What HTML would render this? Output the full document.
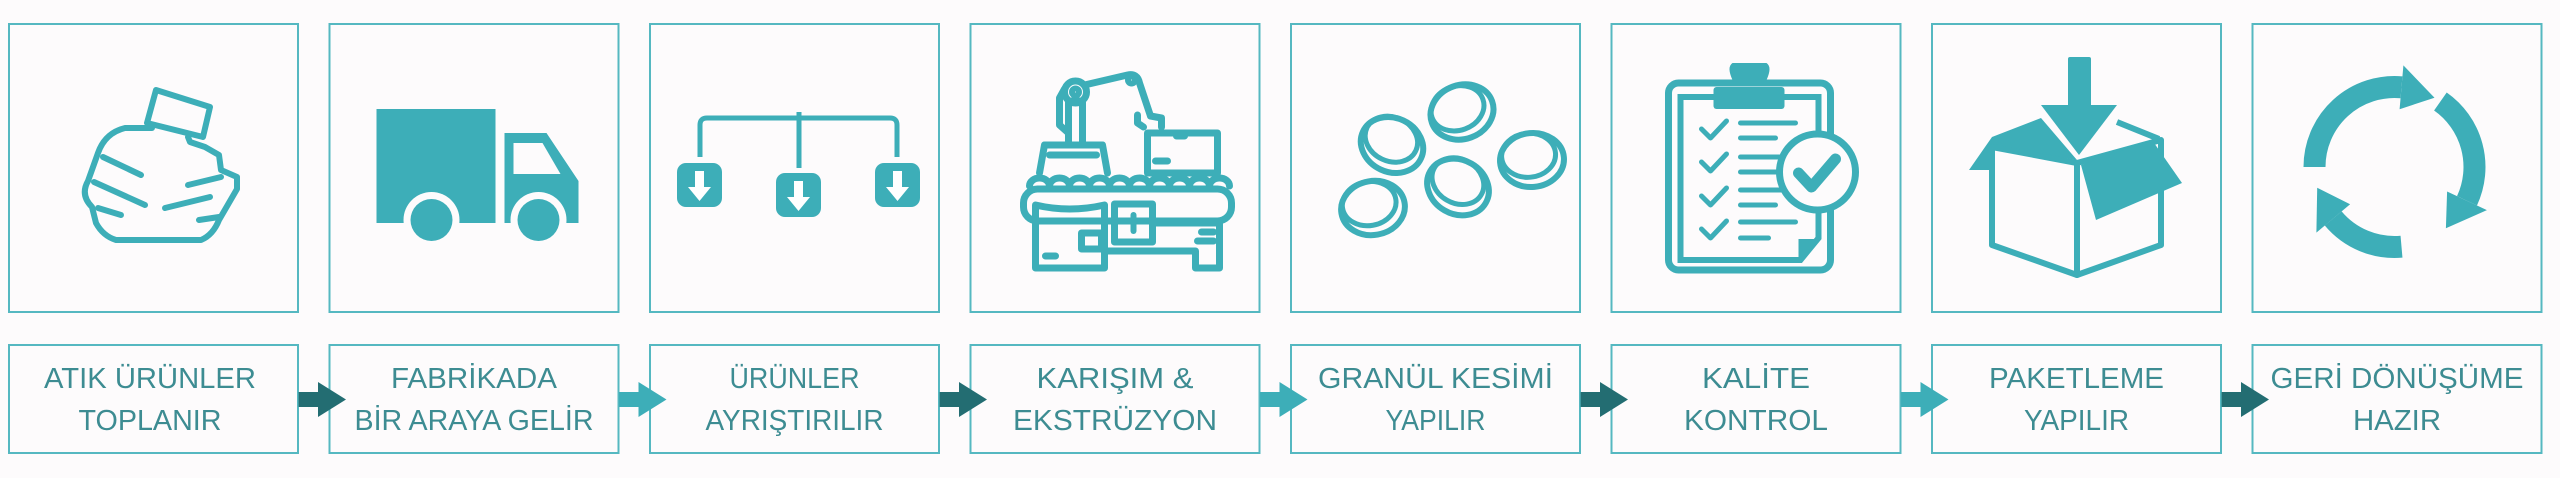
<!DOCTYPE html>
<html><head><meta charset="utf-8"><style>
html,body{margin:0;padding:0;background:#fdfbfc;}
svg{display:block;}
text{font-family:"Liberation Sans","DejaVu Sans",sans-serif;font-size:29px;fill:#3d8c92;text-anchor:middle;}
</style></head><body>
<svg width="2560" height="478" viewBox="0 0 2560 478" xmlns="http://www.w3.org/2000/svg">
<rect width="2560" height="478" fill="#fdfbfc"/>
<defs>
<g id="tile">
<rect x="1" y="1" width="289" height="288" fill="none" stroke="#55b8c1" stroke-width="2"/>
</g>
<g id="lab">
<rect x="1" y="1" width="289" height="108" fill="none" stroke="#55b8c1" stroke-width="2"/>
</g>
<g id="coin">
<ellipse cx="0" cy="0" rx="32" ry="27" fill="none" stroke="#3daeb8" stroke-width="6"/>
<ellipse cx="-3" cy="-5" rx="27" ry="22" fill="none" stroke="#3daeb8" stroke-width="5"/>
</g>
<g id="sq">
<rect x="0" y="0" width="45" height="44" rx="9" fill="#3daeb8"/>
<polygon points="18,8 27,8 27,24 34,24 22.5,38 11,24 18,24" fill="#fff"/>
</g>
</defs>

<g transform="translate(8,23)"><use href="#tile"/></g>
<g transform="translate(328.5,23)"><use href="#tile"/></g>
<g transform="translate(649,23)"><use href="#tile"/></g>
<g transform="translate(969.5,23)"><use href="#tile"/></g>
<g transform="translate(1290,23)"><use href="#tile"/></g>
<g transform="translate(1610.5,23)"><use href="#tile"/></g>
<g transform="translate(1931,23)"><use href="#tile"/></g>
<g transform="translate(2251.5,23)"><use href="#tile"/></g>

<g transform="translate(8,23)" fill="none" stroke="#3daeb8" stroke-width="6" stroke-linecap="round" stroke-linejoin="round">
<polygon points="148,67 202,84 195,114 139,100"/>
<path d="M144,105 L117,105 Q97,110 90,130 L80,158 Q72,172 84,184 L88,200 Q95,213 108,217 L193,217 Q205,212 211,197 L229,166 L229,154 L213,147 L211,132 L197,124 L182,119 L180,114"/>
<line x1="95" y1="134" x2="133" y2="152"/>
<line x1="86" y1="159" x2="137" y2="182"/>
<line x1="90" y1="185" x2="113" y2="192"/>
<line x1="180" y1="162" x2="213" y2="154"/>
<line x1="157" y1="185" x2="202" y2="174"/>
<line x1="191" y1="197" x2="211" y2="194"/>
</g>

<g transform="translate(328.5,23)">
<rect x="48" y="86" width="119" height="114" fill="#3daeb8"/>
<path d="M176,110 L218,110 L250,158 L250,200 L176,200 Z" fill="#3daeb8"/>
<polygon points="185,120 214,120 232,151 185,151" fill="#fdfbfc"/>
<circle cx="103" cy="197" r="28" fill="#fdfbfc"/>
<circle cx="210" cy="197" r="28" fill="#fdfbfc"/>
<circle cx="103" cy="197" r="21" fill="#3daeb8"/>
<circle cx="210" cy="197" r="21" fill="#3daeb8"/>
</g>

<g transform="translate(649,23)">
<path d="M51,134 L51,102 Q51,95 58,95 L241,95 Q248,95 248,102 L248,134" fill="none" stroke="#3daeb8" stroke-width="5"/>
<line x1="150" y1="89" x2="150" y2="145" stroke="#3daeb8" stroke-width="5"/>
<g transform="translate(28,140)"><use href="#sq"/></g>
<g transform="translate(127,150)"><use href="#sq"/></g>
<g transform="translate(226,140)"><use href="#sq"/></g>
</g>

<g transform="translate(969.5,23)" fill="none" stroke="#3daeb8" stroke-width="7" stroke-linejoin="round" stroke-linecap="round">
<rect x="54" y="166" width="208" height="32" rx="14"/>
<path d="M60,163 a10,8 0 0 1 20,0 a10,8 0 0 1 20,0 a10,8 0 0 1 20,0 a10,8 0 0 1 20,0 a10,8 0 0 1 20,0 a10,8 0 0 1 20,0 a10,8 0 0 1 20,0 a10,8 0 0 1 20,0 a10,8 0 0 1 20,0 a10,8 0 0 1 20,0"/>
<path d="M66,182 Q100,190 135,182 L135,245 L66,245 Z"/>
<rect x="145" y="181" width="38" height="38"/>
<line x1="164" y1="192" x2="164" y2="208" stroke-width="6"/>
<path d="M183,200 L250,200 L250,245 L226,245 L226,228 L135,228"/>
<rect x="112" y="210" width="20" height="16"/>
<line x1="76" y1="233" x2="86" y2="233"/>
<line x1="232" y1="209" x2="244" y2="209"/>
<line x1="228" y1="218" x2="244" y2="218"/>
<path d="M70,150 L75,122 L133,122 L138,150"/>
<line x1="80" y1="132" x2="127" y2="132"/>
<rect x="99" y="78" width="14" height="44"/>
<circle cx="106" cy="69" r="11"/>
<circle cx="106" cy="69" r="3"/>
<path d="M95,66 L90,75 L90,102 L99,110"/>
<path d="M115,62 L158,52 Q168,50 170,60 L181,93"/>
<circle cx="162" cy="57" r="3"/>
<path d="M168,92 L168,100 L174,104 M181,93 L192,95 L192,104"/>
<rect x="178" y="110" width="70" height="40"/>
<line x1="207" y1="113" x2="215" y2="113"/>
<line x1="186" y1="138" x2="198" y2="138"/>
</g>

<g transform="translate(1290,23)">
<g transform="translate(102,122) rotate(25)"><use href="#coin"/></g>
<g transform="translate(172,89) rotate(-20)"><use href="#coin"/></g>
<g transform="translate(242,137) rotate(-5)"><use href="#coin"/></g>
<g transform="translate(168,164) rotate(30)"><use href="#coin"/></g>
<g transform="translate(83,185) rotate(-10)"><use href="#coin"/></g>
</g>

<g transform="translate(1610.5,23)">
<rect x="58" y="60" width="162" height="187" rx="10" fill="none" stroke="#3daeb8" stroke-width="7"/>
<path d="M70,74 L208,74 L208,215 L190,237 L70,237 Z" fill="none" stroke="#3daeb8" stroke-width="6"/>
<path d="M190,237 L190,218 L208,218" fill="#3daeb8" stroke="#3daeb8" stroke-width="4"/>
<rect x="103" y="64" width="71" height="22" rx="3" fill="#3daeb8"/>
<path d="M122,40 L156,40 Q162,44 156,57 L122,57 Q116,44 122,40 Z" fill="#3daeb8"/>
<g fill="none" stroke="#3daeb8" stroke-width="5" stroke-linecap="round" stroke-linejoin="round">
<polyline points="91,106 100,115 116,98"/>
<polyline points="91,139 100,148 116,131"/>
<polyline points="91,173 100,182 116,165"/>
<polyline points="91,206 100,215 116,198"/>
<line x1="130" y1="100" x2="185" y2="100"/><line x1="130" y1="115" x2="165" y2="115"/>
<line x1="130" y1="134" x2="175" y2="134"/><line x1="130" y1="149" x2="175" y2="149"/>
<line x1="130" y1="167" x2="175" y2="167"/><line x1="130" y1="182" x2="165" y2="182"/>
<line x1="130" y1="199" x2="185" y2="199"/><line x1="130" y1="215" x2="158" y2="215"/>
</g>
<circle cx="207" cy="149" r="38" fill="#fdfbfc" stroke="#3daeb8" stroke-width="7"/>
<polyline points="188,150 201,164 225,136" fill="none" stroke="#3daeb8" stroke-width="11" stroke-linecap="round" stroke-linejoin="round"/>
</g>

<g transform="translate(1931,23)">
<rect x="137" y="34" width="23" height="55" rx="2" fill="#3daeb8"/>
<polygon points="110,82 186,82 148,132" fill="#3daeb8"/>
<polygon points="38,147 61,114 110,95 146,137 68,124 61,147" fill="#3daeb8"/>
<polygon points="61,124 146,140 146,252 61,222" fill="#fdfbfc" stroke="#3daeb8" stroke-width="6" stroke-linejoin="round"/>
<polygon points="146,140 230,117 230,222 146,252" fill="#fdfbfc" stroke="#3daeb8" stroke-width="6" stroke-linejoin="round"/>
<polygon points="150,142 221,117 251,160 165,197" fill="#3daeb8"/>
<line x1="186" y1="99" x2="228" y2="116" stroke="#3daeb8" stroke-width="6"/>
</g>

<g transform="translate(2251.5,23)" fill="#3daeb8">
<g fill="none" stroke="#3daeb8" stroke-width="22">
<path d="M63,144 A80,80 0 0 1 150,64.3"/>
<path d="M188.9,78.5 A80,80 0 0 1 215.5,177.8"/>
<path d="M150,223.7 A80,80 0 0 1 81.7,195.4"/>
</g>
<polygon points="148.1,86.2 151.9,42.4 183,74.7"/>
<polygon points="195.6,168.5 235.4,187.1 194.4,205.3"/>
<polygon points="98.6,181.3 64.9,209.6 65.7,164.7"/>
</g>

<g transform="translate(8,344)"><use href="#lab"/></g>
<g transform="translate(328.5,344)"><use href="#lab"/></g>
<g transform="translate(649,344)"><use href="#lab"/></g>
<g transform="translate(969.5,344)"><use href="#lab"/></g>
<g transform="translate(1290,344)"><use href="#lab"/></g>
<g transform="translate(1610.5,344)"><use href="#lab"/></g>
<g transform="translate(1931,344)"><use href="#lab"/></g>
<g transform="translate(2251.5,344)"><use href="#lab"/></g>

<g>
<path d="M298.6,392 L318,392 L318,382 L346,399.5 L318,417 L318,407 L298.6,407 Z" fill="#236d72"/>
<path d="M619.1,392 L638.5,392 L638.5,382 L666.5,399.5 L638.5,417 L638.5,407 L619.1,407 Z" fill="#3daeb8"/>
<path d="M939.6,392 L959,392 L959,382 L987,399.5 L959,417 L959,407 L939.6,407 Z" fill="#236d72"/>
<path d="M1260.1,392 L1279.5,392 L1279.5,382 L1307.5,399.5 L1279.5,417 L1279.5,407 L1260.1,407 Z" fill="#3daeb8"/>
<path d="M1580.6,392 L1600,392 L1600,382 L1628,399.5 L1600,417 L1600,407 L1580.6,407 Z" fill="#236d72"/>
<path d="M1901.1,392 L1920.5,392 L1920.5,382 L1948.5,399.5 L1920.5,417 L1920.5,407 L1901.1,407 Z" fill="#3daeb8"/>
<path d="M2221.6,392 L2241,392 L2241,382 L2269,399.5 L2241,417 L2241,407 L2221.6,407 Z" fill="#236d72"/>
</g>

<text x="150" y="388" textLength="212" lengthAdjust="spacingAndGlyphs">ATIK ÜRÜNLER</text>
<text x="150" y="430" textLength="143" lengthAdjust="spacingAndGlyphs">TOPLANIR</text>
<text x="474" y="388" textLength="166" lengthAdjust="spacingAndGlyphs">FABRİKADA</text>
<text x="474" y="430" textLength="239" lengthAdjust="spacingAndGlyphs">BİR ARAYA GELİR</text>
<text x="794.5" y="388" textLength="130" lengthAdjust="spacingAndGlyphs">ÜRÜNLER</text>
<text x="794.5" y="430" textLength="178" lengthAdjust="spacingAndGlyphs">AYRIŞTIRILIR</text>
<text x="1115" y="388" textLength="157" lengthAdjust="spacingAndGlyphs">KARIŞIM &amp;</text>
<text x="1115" y="430" textLength="204" lengthAdjust="spacingAndGlyphs">EKSTRÜZYON</text>
<text x="1435.5" y="388" textLength="235" lengthAdjust="spacingAndGlyphs">GRANÜL KESİMİ</text>
<text x="1435.5" y="430" textLength="100" lengthAdjust="spacingAndGlyphs">YAPILIR</text>
<text x="1756" y="388" textLength="108" lengthAdjust="spacingAndGlyphs">KALİTE</text>
<text x="1756" y="430" textLength="144" lengthAdjust="spacingAndGlyphs">KONTROL</text>
<text x="2076.5" y="388" textLength="175" lengthAdjust="spacingAndGlyphs">PAKETLEME</text>
<text x="2076.5" y="430" textLength="105" lengthAdjust="spacingAndGlyphs">YAPILIR</text>
<text x="2397" y="388" textLength="253" lengthAdjust="spacingAndGlyphs">GERİ DÖNÜŞÜME</text>
<text x="2397" y="430" textLength="88" lengthAdjust="spacingAndGlyphs">HAZIR</text>
</svg>
</body></html>
